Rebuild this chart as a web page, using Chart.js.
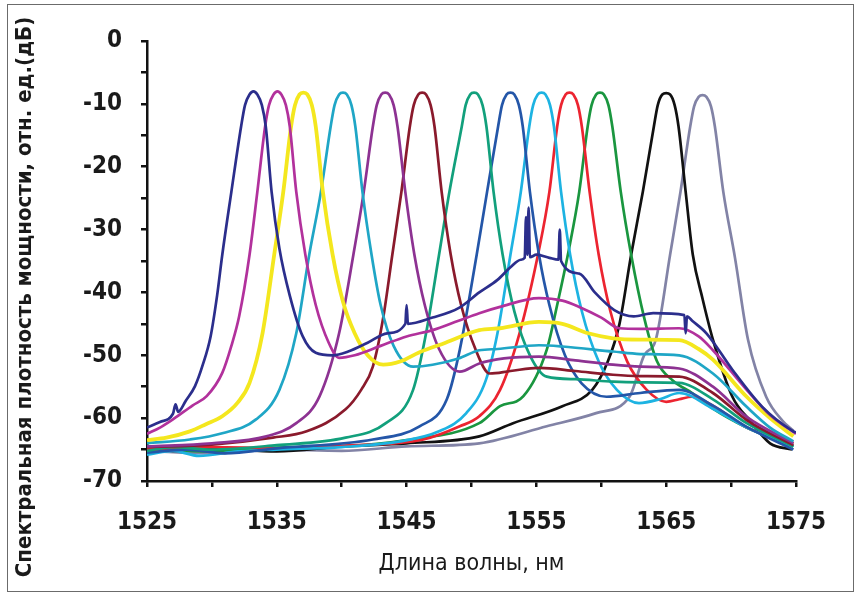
<!DOCTYPE html>
<html>
<head>
<meta charset="utf-8">
<script src="https://cdn.jsdelivr.net/npm/chart.js@4.4.1/dist/chart.umd.min.js"></script>
<style>
    html, body { margin: 0; padding: 0; background: #fff; }
    #wrap { width: 861px; height: 596px; }
</style>
</head>
<body>
<div id="wrap"><canvas id="spectrum-chart" width="861" height="596"></canvas></div>
<script>
// Подписи осей
const xTitle = 'Длина волны, нм';
const yTitle = 'Спектральная плотность мощности, отн. ед.(дБ)';

// Подписи делений
const xTickLabels = [1525, 1535, 1545, 1555, 1565, 1575];
const yTickLabels = [0, -10, -20, -30, -40, -50, -60, -70];

// Пики каналов, нм
const peakWavelengths = [1533, 1535, 1537, 1540, 1543, 1546, 1550, 1553, 1555, 1557.5, 1560, 1565, 1568];

// Цвета кривых
const curveColors = [
    '#2b2e8c', // тёмно-синий
    '#b2319c', // пурпурный
    '#f4e71e', // жёлтый
    '#1fa6c6', // бирюзовый
    '#8d3292', // фиолетовый
    '#8a1a2c', // бордовый
    '#12a07c', // сине-зелёный
    '#2456a8', // синий
    '#1db3e2', // голубой
    '#ec2430', // красный
    '#1a963f', // зелёный
    '#111111', // чёрный
    '#8283a6'  // серо-лиловый
];

// Спектры: [длина волны, дБ]
const spec1533 = [
    [1525, -61.5], [1526, -60.6], [1527, -59.3], [1527.2, -57.8], [1527.4, -59], [1528, -57.2],
    [1528.7, -54.9], [1529.3, -51.5], [1529.9, -47], [1530.4, -40.5], [1530.8, -34], [1531.5, -24],
    [1532.25, -13.6], [1532.55, -10.2], [1532.9, -8.5], [1533.2, -8], [1533.5, -8.5], [1533.85, -10.2],
    [1534.15, -13.6], [1534.6, -24],
    [1535.2, -33], [1536, -40.5], [1537, -47], [1538, -49.6], [1539.3, -50], [1540.5, -49.4],
    [1542, -48], [1543.5, -46.5], [1544.9, -45], [1545, -42], [1545.1, -45], [1547, -44],
    [1549, -42.5], [1550.6, -40], [1552, -38], [1553, -36], [1553.8, -34.8], [1554.1, -34.5],
    [1554.2, -28], [1554.3, -34], [1554.4, -26.5], [1554.5, -34.4], [1555, -34], [1556, -34.5],
    [1556.7, -34.8], [1556.8, -30], [1556.9, -35], [1558.3, -37], [1559.5, -40], [1561, -42.8],
    [1562.5, -43.8], [1564, -43.3], [1566.4, -43.6], [1566.5, -46.5], [1566.6, -43.8], [1567, -44.5],
    [1568.1, -46.5], [1570.1, -52.3], [1572.4, -58.2], [1574.7, -62], [1575, -62.3]
];
const spec1535 = [
    [1525, -62.5], [1526, -61.5], [1527, -60.2], [1528.5, -58], [1529.6, -56.5], [1530.8, -52.8],
    [1531.5, -48.5], [1532.1, -43.8], [1532.9, -34], [1533.5, -24], [1534.1, -13.6], [1534.4, -10.2],
    [1534.75, -8.5], [1535.05, -8], [1535.35, -8.5], [1535.7, -10.2], [1536, -13.6], [1536.5, -24],
    [1537.2, -34], [1538, -42],
    [1539, -48], [1539.8, -50.4], [1541, -50], [1543, -48.5], [1545, -47], [1547, -46],
    [1549, -44.5], [1550.6, -43.3], [1552.2, -42.3], [1555.2, -40.9], [1557, -41.3], [1558.3, -42.3],
    [1560, -44], [1561.4, -45.7], [1563, -45.8], [1566, -45.7], [1567.5, -47], [1568.6, -49.2],
    [1571.2, -55.5], [1573, -59.5], [1575, -62.5]
];
const spec1537 = [
    [1525, -63.5], [1526.5, -63.1], [1528.3, -62.1], [1529.5, -61], [1530.8, -59.7], [1532, -57.5],
    [1532.9, -54.4], [1533.9, -46.5], [1534.8, -34], [1535.5, -24], [1536.1, -13.6], [1536.4, -10.2],
    [1536.75, -8.5], [1537.05, -8.2], [1537.35, -8.5], [1537.7, -10.2], [1538, -13.6], [1538.55, -24],
    [1539.3, -34], [1540.1, -41.5],
    [1541, -46.5], [1542, -50], [1543.2, -51.5], [1544.5, -51], [1546, -49.5], [1548, -48],
    [1550.6, -46], [1552.2, -45.7], [1555.2, -44.7], [1557, -45], [1559, -46.5], [1560.9, -47.3],
    [1563, -47.5], [1566, -47.6], [1567.5, -49], [1568.6, -50.7], [1571.2, -56.6], [1573, -60],
    [1574.8, -62.9]
];
const spec1540 = [
    [1525, -64], [1528.3, -63.4], [1530.8, -62.4], [1533.4, -60.2], [1535.2, -55.5], [1536.5, -46.5],
    [1537.5, -34], [1538.4, -24], [1539.15, -13.6], [1539.45, -10.2], [1539.8, -8.5], [1540.1, -8.2],
    [1540.4, -8.5], [1540.75, -10.2], [1541.05, -13.6],
    [1541.6, -24], [1542.3, -34], [1543, -42], [1544, -48.5], [1545.5, -51.8],
    [1547, -51.5], [1549, -50.5], [1550.6, -49.2], [1552, -49], [1555.2, -48.4], [1557, -48.6],
    [1560.9, -49.4], [1563, -49.8], [1566, -50], [1568.6, -52.9], [1571.2, -58.2], [1573, -61.5],
    [1574.8, -63.7]
];
const spec1543 = [
    [1525, -64.5], [1530, -64], [1534.2, -62.9], [1536.5, -60.8], [1538.3, -56.5], [1539.8, -46.5],
    [1540.9, -34], [1541.7, -24], [1542.4, -13.6], [1542.7, -10.2], [1543.05, -8.5], [1543.35, -8.2],
    [1543.65, -8.5], [1544, -10.2], [1544.3, -13.6],
    [1544.9, -24], [1545.6, -34], [1546.4, -42], [1547.5, -49], [1549.1, -52.6],
    [1550.6, -51.3], [1552.5, -50.5], [1555.2, -50.2], [1558, -50.8], [1560.9, -51.5], [1563, -51.8],
    [1566, -52.1], [1568.6, -55], [1571.2, -59.8], [1574.8, -64]
];
const spec1546 = [
    [1525, -64.6], [1530, -64.2], [1534.7, -63.1], [1537.3, -62.1], [1540.3, -58.6], [1541.5, -55.5],
    [1542.4, -51.8], [1543.2, -44], [1543.9, -34], [1544.6, -24], [1545.25, -13.6], [1545.55, -10.2],
    [1545.9, -8.5], [1546.2, -8.2], [1546.5, -8.5], [1546.85, -10.2], [1547.15, -13.6],
    [1547.7, -24], [1548.4, -34], [1549.2, -42],
    [1550.3, -49], [1551.4, -52.9], [1553, -52.5], [1555.2, -52], [1558, -52.5], [1560.9, -53.1],
    [1563, -53.3], [1566, -53.4], [1568.6, -56], [1571.2, -60.3], [1574.8, -64.3]
];
const spec1550 = [
    [1525, -65.2], [1527, -64.6], [1530, -65], [1535, -64.3], [1540.3, -63.1], [1543.4, -60.8],
    [1545.5, -55.5], [1546.5, -46.5], [1547.5, -34], [1548.3, -24], [1549.25, -13.6], [1549.55, -10.2],
    [1549.9, -8.5], [1550.2, -8.2], [1550.5, -8.5], [1550.85, -10.2], [1551.15, -13.6],
    [1551.7, -24], [1552.4, -34], [1553.3, -43],
    [1554.5, -50], [1555.8, -53.4], [1558, -53.8], [1560.9, -54.2], [1563, -54.3], [1566, -54.4],
    [1568.6, -57], [1571.2, -60.8], [1574.8, -64.5]
];
const spec1553 = [
    [1525, -65.5], [1528, -65], [1531, -65.6], [1535, -64.8], [1542.4, -63.4], [1546, -61.3],
    [1548.1, -57], [1549.1, -49.1], [1550.4, -34], [1551.2, -24], [1552.05, -13.6], [1552.35, -10.2],
    [1552.7, -8.5], [1553, -8.2], [1553.3, -8.5], [1553.65, -10.2], [1553.95, -13.6],
    [1554.5, -24], [1555.2, -34], [1556, -42],
    [1557.2, -50], [1558.5, -54.5], [1560.4, -56.6], [1563, -56], [1566, -55.5], [1568.6, -58],
    [1571.2, -61.4], [1574.8, -65]
];
const spec1555 = [
    [1525, -65.8], [1527, -65.2], [1529, -66], [1532, -65.3], [1535, -65], [1540, -64.6],
    [1544.5, -63.7], [1547.5, -62.1], [1549.6, -59.2], [1551.1, -54], [1552, -46.5], [1553, -34],
    [1553.8, -24], [1554.45, -13.6], [1554.75, -10.2], [1555.1, -8.5], [1555.4, -8.2],
    [1555.7, -8.5], [1556.05, -10.2], [1556.35, -13.6],
    [1556.9, -24], [1557.6, -34], [1558.5, -43], [1559.8, -51], [1561.2, -55.5], [1562.9, -57.6],
    [1564.5, -57], [1566, -56], [1568.6, -58.5], [1571.2, -61.5], [1574.8, -64.5]
];
const spec1557 = [
    [1525, -65], [1530, -64.6], [1535, -64.8], [1540, -64.4], [1546.3, -63.4], [1549.1, -61.3],
    [1550.6, -59.7], [1552.2, -55.5], [1553.7, -46.5], [1555.2, -33.2], [1556, -24], [1556.6, -13.6],
    [1556.9, -10.2], [1557.25, -8.5], [1557.55, -8.2], [1557.85, -8.5], [1558.2, -10.2],
    [1558.5, -13.6], [1559.1, -24], [1559.8, -34],
    [1560.7, -43], [1562, -51], [1563.5, -55.5], [1565, -57.4], [1566, -57], [1567, -56.6],
    [1568.6, -58], [1571.2, -61.5], [1574.8, -64]
];
const spec1560 = [
    [1525, -64.8], [1530, -65.3], [1535, -64.7], [1540, -64.5], [1545, -63.5], [1550.6, -60.8],
    [1552.2, -58.1], [1554, -56.5], [1555.8, -49.1], [1556.6, -42], [1557.5, -33.2], [1558.3, -24],
    [1558.95, -13.6], [1559.25, -10.2], [1559.6, -8.5], [1559.9, -8.2], [1560.2, -8.5],
    [1560.55, -10.2], [1560.85, -13.6], [1561.5, -24],
    [1562.3, -34], [1563.3, -44], [1564.3, -51], [1565.5, -54], [1567, -56], [1568.6, -58.5],
    [1571.2, -61.5], [1574.8, -64.5]
];
const spec1565 = [
    [1525, -64.5], [1527, -65.2], [1530, -64.8], [1535, -65.3], [1540, -64.5], [1545, -64],
    [1550.6, -62.9], [1553.2, -60.8], [1557, -58.1], [1559.3, -55.5], [1560.5, -51], [1561.4, -45],
    [1562.3, -34], [1563.2, -24], [1564.05, -13.6], [1564.35, -10.2], [1564.7, -8.5], [1565, -8.3],
    [1565.3, -8.5], [1565.65, -10.2], [1565.95, -13.6],
    [1566.5, -24], [1567.05, -34], [1567.8, -41], [1568.6, -47.5], [1570.1, -56.6],
    [1571.5, -60.5], [1573, -64], [1574.7, -65]
];
const spec1568 = [
    [1525, -65.2], [1530, -65.6], [1535, -65], [1540, -65.2], [1545, -64.5], [1550.6, -64],
    [1555.8, -61.3], [1559.6, -59.2], [1562.2, -56.5], [1563.3, -50], [1564.2, -47.5], [1565.3, -34],
    [1566.1, -24], [1566.85, -13.6], [1567.15, -10.4], [1567.5, -8.9], [1567.8, -8.6],
    [1568.1, -8.9], [1568.45, -10.4], [1568.75, -13.6],
    [1569.4, -24], [1570.3, -34.5], [1571.3, -47.5], [1572.7, -56.6], [1574, -60.5], [1574.8, -62]
];

const spectra = [
    spec1533, spec1535, spec1537, spec1540, spec1543, spec1546, spec1550,
    spec1553, spec1555, spec1557, spec1560, spec1565, spec1568
];

const tickFont = "'Liberation Sans Narrow', 'DejaVu Sans Condensed', 'Liberation Sans', Arial, sans-serif";

// Рамка вокруг рисунка
const framePlugin = {
    id: 'frame',
    beforeDraw(chart) {
        const ctx = chart.ctx;
        ctx.save();
        ctx.fillStyle = '#fff';
        ctx.fillRect(0, 0, chart.width, chart.height);
        ctx.strokeStyle = '#6b6b6b';
        ctx.lineWidth = 1;
        ctx.strokeRect(7.5, 4.5, 846, 587);
        ctx.restore();
    }
};

// Вертикальная подпись оси Y
const yTitlePlugin = {
    id: 'yTitle',
    afterDraw(chart) {
        const ctx = chart.ctx;
        ctx.save();
        ctx.translate(25, 297);
        ctx.rotate(-Math.PI / 2);
        ctx.font = 'bold 22px ' + tickFont;
        ctx.fillStyle = '#1a1a1a';
        ctx.textAlign = 'center';
        ctx.textBaseline = 'middle';
        ctx.fillText(yTitle, 0, 0);
        ctx.restore();
    }
};

function initSpectrumChart() {
    const ctx = document.getElementById('spectrum-chart').getContext('2d');

    const datasets = spectra.map((spec, i) => ({
        label: peakWavelengths[i] + ' нм',
        data: spec.map(p => ({ x: p[0], y: p[1] })),
        borderColor: curveColors[i],
        borderWidth: i === 2 ? 3.8 : 2.7,
        pointRadius: 0,
        fill: false,
        cubicInterpolationMode: 'monotone'
    }));

    new Chart(ctx, {
        type: 'line',
        data: { datasets: datasets },
        options: {
            responsive: false,
            animation: false,
            layout: { padding: { left: 0, top: 41, right: 65, bottom: 0 } },
            plugins: {
                legend: { display: false },
                tooltip: { enabled: false }
            },
            scales: {
                x: {
                    type: 'linear',
                    min: 1525,
                    max: 1575,
                    afterFit: scale => { scale.height = 115; },
                    border: { display: true, color: '#111', width: 2.5 },
                    grid: { drawOnChartArea: false, drawTicks: true, tickLength: 6, color: '#111', lineWidth: 2.5 },
                    ticks: {
                        stepSize: 5,
                        autoSkip: false,
                        maxRotation: 0,
                        padding: 21,
                        color: '#1a1a1a',
                        font: { family: tickFont, size: 24, weight: 'bold' },
                        callback: v => xTickLabels.includes(v) ? String(v) : ''
                    },
                    title: {
                        display: true,
                        text: xTitle,
                        color: '#1a1a1a',
                        padding: { top: 0, bottom: 18 },
                        font: { family: tickFont, size: 23, weight: 'normal' }
                    }
                },
                y: {
                    type: 'linear',
                    min: -70,
                    max: 0,
                    afterFit: scale => { scale.width = 147; },
                    border: { display: true, color: '#111', width: 2.5 },
                    grid: { drawOnChartArea: false, drawTicks: true, tickLength: 6, color: '#111', lineWidth: 2.5 },
                    ticks: {
                        stepSize: 5,
                        autoSkip: false,
                        padding: 19,
                        color: '#1a1a1a',
                        font: { family: tickFont, size: 24, weight: 'bold' },
                        callback: v => yTickLabels.includes(v) ? String(v) : ''
                    }
                }
            }
        },
        plugins: [framePlugin, yTitlePlugin]
    });
}

initSpectrumChart();
</script>
</body>
</html>
